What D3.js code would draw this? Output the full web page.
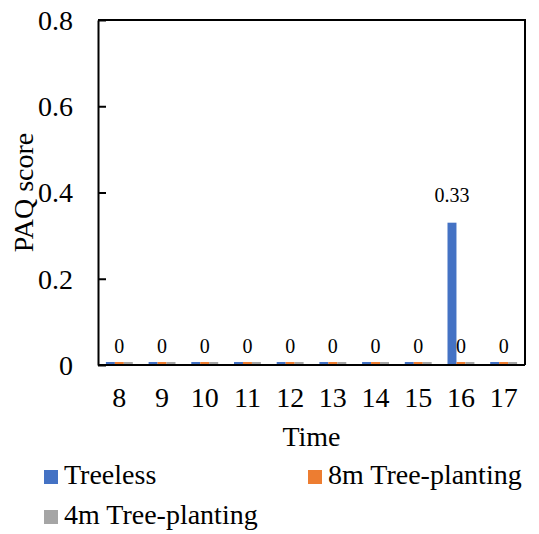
<!DOCTYPE html>
<html>
<head>
<meta charset="utf-8">
<script src="https://cdn.jsdelivr.net/npm/d3@7/dist/d3.min.js"></script>
<style>
  html, body { margin: 0; padding: 0; background: #fff; }
  svg { display: block; }
  svg text { font-family: "Liberation Serif", serif !important; fill: #000; }
</style>
</head>
<body>
<svg id="chart" width="539" height="534"></svg>
<script>
// Hourly PAQ scores for three street layouts
const hours = ["8", "9", "10", "11", "12", "13", "14", "15", "16", "17"];
const seriesNames = ["Treeless", "8m Tree-planting", "4m Tree-planting"];
const treeless = [0, 0, 0, 0, 0, 0, 0, 0, 0.33, 0];
const tree8m   = [0, 0, 0, 0, 0, 0, 0, 0, 0, 0];
const tree4m   = [0, 0, 0, 0, 0, 0, 0, 0, 0, 0];
const yTicks = [0, 0.2, 0.4, 0.6, 0.8];
const colors = ["#4472C4", "#ED7D31", "#A5A5A5"];

const seriesValues = [treeless, tree8m, tree4m];
const serif = "'Liberation Serif', serif";

const svg = d3.select("#chart");
const plot = { left: 98, right: 525, top: 20, bottom: 365 };

const x = d3.scaleBand()
  .domain(hours)
  .range([plot.left, plot.right])
  .paddingInner(0.37)
  .paddingOuter(0.185);

const xs = d3.scaleBand()
  .domain(seriesNames)
  .range([0, x.bandwidth()]);

const y = d3.scaleLinear()
  .domain([0, 0.8])
  .range([plot.bottom, plot.top]);

// bars (zero values keep a thin visible sliver)
const minBar = 3;
seriesNames.forEach((name, si) => {
  svg.append("g")
    .selectAll("rect")
    .data(hours.map((h, i) => ({ h, v: seriesValues[si][i] })))
    .join("rect")
    .attr("x", d => x(d.h) + xs(name))
    .attr("width", xs.bandwidth())
    .attr("y", d => Math.min(y(d.v), y(0) - minBar))
    .attr("height", d => Math.max(y(0) - y(d.v), minBar))
    .attr("fill", colors[si]);
});

// frame (top and right edges)
svg.append("path")
  .attr("d", `M${plot.left},${plot.top}H${plot.right}V${plot.bottom}`)
  .attr("fill", "none")
  .attr("stroke", "#000")
  .attr("stroke-width", 2);

// y axis with inward ticks
const yAxis = svg.append("g")
  .attr("transform", `translate(${plot.left},0)`)
  .call(d3.axisLeft(y).tickValues(yTicks).tickFormat(d3.format("~g"))
    .tickSizeInner(-8).tickSizeOuter(0).tickPadding(25))
  .attr("font-family", serif)
  .attr("font-size", 28);
yAxis.select(".domain").attr("stroke", "#000").attr("stroke-width", 2);
yAxis.selectAll(".tick line").attr("stroke", "#000").attr("stroke-width", 2);
yAxis.selectAll("text").attr("dy", "0.33em");

// x axis
const xAxis = svg.append("g")
  .attr("transform", `translate(0,${plot.bottom})`)
  .call(d3.axisBottom(x).tickSize(0).tickSizeOuter(0))
  .attr("font-family", serif)
  .attr("font-size", 28);
xAxis.select(".domain").attr("stroke", "#000").attr("stroke-width", 2)
  .attr("d", `M${plot.left},0H${plot.right}`);
xAxis.selectAll("text").attr("y", 42).attr("dy", 0);

// data labels
const labelFmt = d3.format("~g");
const labelGroup = svg.append("g")
  .attr("font-family", serif)
  .attr("font-size", 20)
  .attr("text-anchor", "middle");
hours.forEach((h, i) => {
  const vb = treeless[i];
  if (vb > 0) {
    labelGroup.append("text")
      .attr("x", x(h) + xs(seriesNames[0]) + xs.bandwidth() / 2)
      .attr("y", y(vb) - 21)
      .text(labelFmt(vb));
  }
  const vo = tree8m[i];
  labelGroup.append("text")
    .attr("x", x(h) + xs(seriesNames[1]) + xs.bandwidth() / 2)
    .attr("y", y(vo) - 12)
    .text(labelFmt(vo));
});

// axis titles
svg.append("text")
  .attr("transform", `translate(33,${(plot.top + plot.bottom) / 2}) rotate(-90)`)
  .attr("text-anchor", "middle")
  .attr("font-family", serif)
  .attr("font-size", 28)
  .text("PAQ score");

svg.append("text")
  .attr("x", (plot.left + plot.right) / 2)
  .attr("y", 446)
  .attr("text-anchor", "middle")
  .attr("font-family", serif)
  .attr("font-size", 28)
  .text("Time");

// legend
const legendItems = [
  { name: seriesNames[0], color: colors[0], x: 44, y: 484 },
  { name: seriesNames[1], color: colors[1], x: 308, y: 484 },
  { name: seriesNames[2], color: colors[2], x: 44, y: 524 }
];
const legend = svg.append("g")
  .attr("font-family", serif)
  .attr("font-size", 28);
legendItems.forEach(it => {
  legend.append("rect")
    .attr("x", it.x).attr("y", it.y - 14)
    .attr("width", 14).attr("height", 14)
    .attr("fill", it.color);
  legend.append("text")
    .attr("x", it.x + 20).attr("y", it.y)
    .text(it.name);
});
</script>
</body>
</html>
